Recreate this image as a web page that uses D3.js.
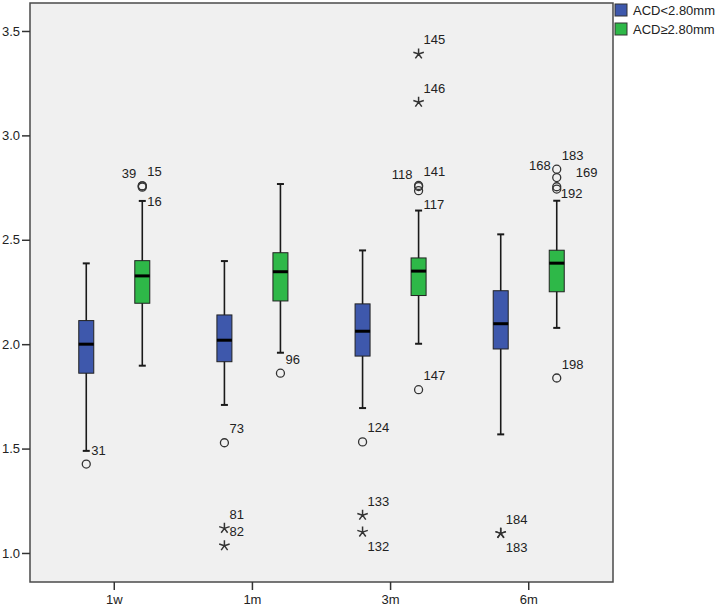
<!DOCTYPE html>
<html>
<head>
<meta charset="utf-8">
<script src="https://cdn.jsdelivr.net/npm/d3@7"></script>
<style>
  body { margin: 0; background: #fff; }
  svg { display: block; font-family: "Liberation Sans", Arial, sans-serif; }
</style>
</head>
<body>
<svg id="chart" width="724" height="608"></svg>
<script>
// Categories (time after surgery) and the two groups
var categories = ["1w", "1m", "3m", "6m"];
var series = ["ACD<2.80mm", "ACD\u22652.80mm"];
var seriesColors = ["#3e58ac", "#2eb848"];

// Box summaries per category: [lower whisker, Q1, median, Q3, upper whisker]
var shallowStats = [
  [1.489, 1.861, 2.000, 2.113, 2.387],
  [1.709, 1.916, 2.019, 2.140, 2.398],
  [1.694, 1.943, 2.062, 2.193, 2.449],
  [1.568, 1.977, 2.098, 2.256, 2.526]
];
var deepStats = [
  [1.897, 2.196, 2.327, 2.400, 2.686],
  [1.959, 2.207, 2.347, 2.438, 2.767],
  [2.002, 2.233, 2.350, 2.413, 2.640],
  [2.078, 2.251, 2.388, 2.450, 2.687]
];

// Outliers: [category, case id, value, kind] ("o" = outlier, "*" = extreme)
var shallowOutliers = [
  ["1w", "31", 1.426, "o"],
  ["1m", "73", 1.528, "o"],
  ["1m", "81", 1.118, "*"],
  ["1m", "82", 1.035, "*"],
  ["3m", "124", 1.532, "o"],
  ["3m", "133", 1.181, "*"],
  ["3m", "132", 1.100, "*"],
  ["6m", "184", 1.094, "*"],
  ["6m", "183", 1.094, "*"]
];
var deepOutliers = [
  ["1w", "39", 2.758, "o"],
  ["1w", "15", 2.758, "o"],
  ["1w", "16", 2.752, "o"],
  ["1m", "96", 1.861, "o"],
  ["3m", "145", 3.390, "*"],
  ["3m", "146", 3.159, "*"],
  ["3m", "141", 2.760, "o"],
  ["3m", "118", 2.755, "o"],
  ["3m", "117", 2.735, "o"],
  ["3m", "147", 1.782, "o"],
  ["6m", "183", 2.838, "o"],
  ["6m", "168", 2.798, "o"],
  ["6m", "169", 2.754, "o"],
  ["6m", "192", 2.743, "o"],
  ["6m", "198", 1.838, "o"]
];

var yTicks = [1.0, 1.5, 2.0, 2.5, 3.0, 3.5];

// Where a case label sits relative to its point (default: upper right)
var labelSide = {
  "1|1w|39": "left", "1|1w|16": "below",
  "1|3m|118": "left", "1|3m|117": "below",
  "0|3m|132": "below", "0|6m|183": "below",
  "1|6m|168": "left", "1|6m|169": "far", "1|6m|192": "near"
};
var sideOffsets = {
  ur:    {dx: 5,  dy: -14, anchor: "start"},
  left:  {dx: -6, dy: -12, anchor: "end"},
  below: {dx: 5,  dy: 14,  anchor: "start"},
  far:   {dx: 19, dy: -14, anchor: "start"},
  near:  {dx: 4,  dy: 4,   anchor: "start"}
};

var svg = d3.select("#chart");
var plot = {left: 30, right: 613, top: 3, bottom: 582};

var x = d3.scaleBand()
  .domain(categories)
  .range([plot.left, plot.right])
  .paddingInner(0)
  .paddingOuter(0.11);

var xSub = d3.scalePoint()
  .domain([0, 1])
  .range([0, x.bandwidth()])
  .padding(0.733);

var y = d3.scaleLinear()
  .domain([0.861, 3.634])
  .range([plot.bottom, plot.top]);

// Plot background and frame
svg.append("rect")
  .attr("x", plot.left).attr("y", plot.top)
  .attr("width", plot.right - plot.left).attr("height", plot.bottom - plot.top)
  .attr("fill", "#f0f0f0")
  .attr("stroke", "#4a4a4a")
  .attr("stroke-width", 1.5);

// Axes
var yAxis = svg.append("g")
  .attr("transform", "translate(" + plot.left + ",0)")
  .call(d3.axisLeft(y).tickValues(yTicks).tickFormat(d3.format(".1f")).tickSize(8).tickPadding(2));

var xAxis = svg.append("g")
  .attr("transform", "translate(0," + plot.bottom + ")")
  .call(d3.axisBottom(x).tickSize(8).tickPadding(5));

[yAxis, xAxis].forEach(function(ax) {
  ax.select(".domain").remove();
  ax.selectAll(".tick line").attr("stroke", "#333").attr("stroke-width", 1.5);
  ax.selectAll(".tick text")
    .attr("fill", "#222")
    .style("font-size", "13px")
    .style("font-family", "\"Liberation Sans\", Arial, sans-serif");
});

// Boxes
var capHalf = 3.5;
var boxHalf = 7.5;
var allStats = [shallowStats, deepStats];

allStats.forEach(function(stats, si) {
  var g = svg.append("g").attr("class", "series-" + si);
  var groups = g.selectAll("g.box")
    .data(stats.map(function(s, i) { return {cat: categories[i], s: s}; }))
    .enter().append("g")
    .attr("class", "box")
    .attr("transform", function(d) {
      return "translate(" + (x(d.cat) + xSub(si)) + ",0)";
    });

  // whisker stem
  groups.append("line")
    .attr("x1", 0).attr("x2", 0)
    .attr("y1", function(d) { return y(d.s[0]); })
    .attr("y2", function(d) { return y(d.s[4]); })
    .attr("stroke", "#1a1a1a").attr("stroke-width", 1.6);

  // caps
  [0, 4].forEach(function(k) {
    groups.append("line")
      .attr("x1", -capHalf).attr("x2", capHalf)
      .attr("y1", function(d) { return y(d.s[k]); })
      .attr("y2", function(d) { return y(d.s[k]); })
      .attr("stroke", "#1a1a1a").attr("stroke-width", 2);
  });

  groups.append("rect")
    .attr("x", -boxHalf)
    .attr("width", boxHalf * 2)
    .attr("y", function(d) { return y(d.s[3]); })
    .attr("height", function(d) { return y(d.s[1]) - y(d.s[3]); })
    .attr("fill", seriesColors[si])
    .attr("stroke", "#222").attr("stroke-width", 1);

  groups.append("line")
    .attr("x1", -boxHalf).attr("x2", boxHalf)
    .attr("y1", function(d) { return y(d.s[2]); })
    .attr("y2", function(d) { return y(d.s[2]); })
    .attr("stroke", "#000").attr("stroke-width", 3);
});

// Outliers
var starPath = (function() {
  var r = 5.5, p = "";
  for (var k = 0; k < 5; k++) {
    var a = -Math.PI / 2 + k * 2 * Math.PI / 5;
    p += "M0,0L" + (r * Math.cos(a)).toFixed(2) + "," + (r * Math.sin(a)).toFixed(2);
  }
  return p;
})();

[shallowOutliers, deepOutliers].forEach(function(list, si) {
  var g = svg.append("g").attr("class", "outliers-" + si);
  list.forEach(function(o) {
    var cx = x(o[0]) + xSub(si);
    var cy = y(o[2]);
    if (o[3] === "o") {
      g.append("circle")
        .attr("cx", cx).attr("cy", cy).attr("r", 4)
        .attr("fill", "none")
        .attr("stroke", "#333").attr("stroke-width", 1.3);
    } else {
      g.append("path")
        .attr("transform", "translate(" + cx + "," + cy + ")")
        .attr("d", starPath)
        .attr("fill", "none")
        .attr("stroke", "#333").attr("stroke-width", 1.5);
    }
    var side = sideOffsets[labelSide[si + "|" + o[0] + "|" + o[1]] || "ur"];
    g.append("text")
      .attr("x", cx + side.dx)
      .attr("y", cy + side.dy)
      .attr("dy", "0.35em")
      .attr("text-anchor", side.anchor)
      .attr("fill", "#222")
      .style("font-size", "13px")
      .text(o[1]);
  });
});

// Legend
var legend = svg.append("g").attr("transform", "translate(615,4)");
series.forEach(function(name, i) {
  var row = legend.append("g").attr("transform", "translate(0," + i * 19 + ")");
  row.append("rect")
    .attr("width", 12).attr("height", 12)
    .attr("fill", seriesColors[i])
    .attr("stroke", "#333").attr("stroke-width", 1);
  row.append("text")
    .attr("x", 18).attr("y", 6).attr("dy", "0.35em")
    .attr("fill", "#222")
    .style("font-size", "13px")
    .text(name);
});
</script>
</body>
</html>
